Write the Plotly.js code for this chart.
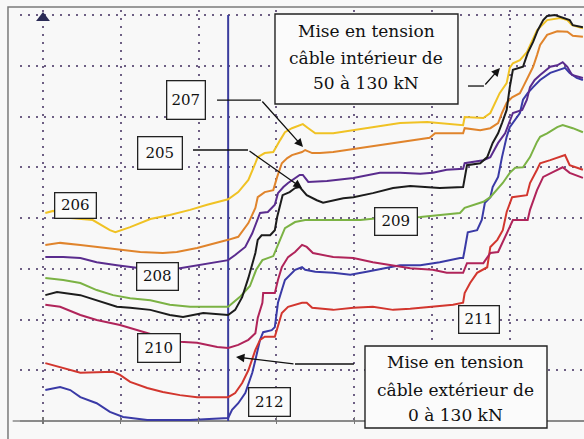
<!DOCTYPE html>
<html><head><meta charset="utf-8">
<script src="https://cdn.plot.ly/plotly-3.0.1.min.js"></script>
<style>html,body{margin:0;padding:0;background:#f8f8f8}</style>
</head><body>
<div id="chart" style="width:584px;height:439px"></div>
<script>
// time axis in grid divisions, signal in grid divisions
const x206 = [0.03,0.13,0.35,0.64,0.86,0.93,1.12,1.38,1.63,1.89,2.11,2.38,2.51,2.64,2.73,2.76,2.85,2.96,3.05,3.11,3.20,3.30,3.34,3.41,3.50,3.73,3.99,4.24,4.59,4.94,5.14,5.40,5.42,5.66,5.75,5.81,5.87,5.96,6.00,6.04,6.13,6.22,6.29,6.35,6.48,6.65,6.74,6.80,6.94];
const y206 = [4.10,4.14,4.00,3.96,3.76,3.72,3.82,3.98,4.06,4.16,4.26,4.37,4.51,4.75,5.08,5.20,5.28,5.30,5.54,5.69,5.77,5.83,5.85,5.77,5.67,5.67,5.73,5.79,5.87,5.89,5.87,5.83,5.99,5.97,6.07,6.27,6.46,6.66,6.96,7.05,7.11,7.27,7.51,7.70,7.90,7.94,7.90,7.80,7.74];
const x207 = [0.03,0.22,0.48,0.69,0.99,1.25,1.54,1.72,1.98,2.24,2.38,2.51,2.64,2.73,2.76,2.85,2.96,3.01,3.07,3.14,3.20,3.33,3.37,3.46,3.56,3.73,3.99,4.24,4.50,4.76,4.97,5.04,5.23,5.40,5.42,5.62,5.75,5.85,5.90,5.96,6.03,6.13,6.17,6.23,6.30,6.35,6.39,6.48,6.61,6.74,6.81,6.94];
const y207 = [3.47,3.51,3.47,3.43,3.37,3.33,3.31,3.33,3.41,3.51,3.57,3.63,3.90,4.20,4.41,4.51,4.55,4.81,5.08,5.18,5.24,5.30,5.34,5.28,5.28,5.30,5.36,5.42,5.48,5.54,5.58,5.67,5.67,5.67,5.77,5.73,5.77,5.87,6.07,6.27,6.38,6.46,6.58,6.76,6.98,7.21,7.41,7.61,7.68,7.67,7.59,7.57];
const x208 = [0.03,0.26,0.48,0.69,0.95,1.25,1.76,1.98,2.24,2.38,2.47,2.60,2.69,2.75,2.79,2.89,2.98,3.02,3.09,3.15,3.24,3.30,3.34,3.41,3.65,3.99,4.33,4.59,4.85,5.01,5.19,5.40,5.42,5.66,5.75,5.85,5.94,6.00,6.04,6.16,6.22,6.26,6.32,6.39,6.52,6.61,6.68,6.74,6.80,6.94];
const y208 = [3.23,3.23,3.21,3.13,3.07,3.01,3.01,3.07,3.13,3.17,3.27,3.43,3.70,3.96,4.10,4.12,4.26,4.49,4.61,4.69,4.79,4.85,4.85,4.71,4.73,4.79,4.89,4.89,4.87,4.89,4.95,4.97,5.08,5.14,5.20,5.48,5.67,5.89,6.07,6.13,6.33,6.58,6.72,6.82,6.98,7.01,7.07,6.98,6.82,6.76];
const x209 = [0.03,0.26,0.48,0.69,0.90,1.12,1.38,1.63,1.89,2.15,2.38,2.54,2.66,2.74,2.82,2.96,3.02,3.11,3.24,3.37,3.56,3.82,4.08,4.33,4.59,4.85,5.10,5.36,5.42,5.66,5.75,5.81,5.91,6.00,6.07,6.17,6.26,6.35,6.39,6.48,6.61,6.68,6.81,6.94];
const y209 = [2.82,2.78,2.72,2.58,2.48,2.42,2.38,2.29,2.25,2.25,2.25,2.46,2.66,2.98,3.17,3.25,3.47,3.80,3.92,3.96,3.96,3.96,3.96,4.00,4.00,4.02,4.06,4.10,4.20,4.32,4.41,4.51,4.69,4.89,4.99,5.00,5.20,5.50,5.60,5.67,5.79,5.83,5.77,5.69];
const x205 = [0.03,0.18,0.48,0.69,0.95,1.12,1.38,1.63,1.80,2.06,2.38,2.47,2.56,2.64,2.73,2.76,2.81,2.92,2.98,3.01,3.05,3.08,3.17,3.24,3.30,3.39,3.52,3.60,3.86,3.99,4.24,4.50,4.72,4.94,5.10,5.40,5.42,5.45,5.62,5.71,5.78,5.85,5.90,5.96,6.00,6.04,6.17,6.23,6.30,6.36,6.43,6.48,6.58,6.68,6.77,6.81,6.94];
const y205 = [2.48,2.54,2.48,2.38,2.25,2.23,2.19,2.09,2.05,2.13,2.09,2.19,2.44,2.82,3.31,3.57,3.66,3.66,3.76,4.02,4.30,4.45,4.51,4.59,4.61,4.45,4.35,4.30,4.39,4.41,4.49,4.59,4.63,4.61,4.59,4.61,4.81,5.04,5.08,5.20,5.48,5.67,5.87,6.13,6.58,6.92,6.98,7.25,7.47,7.70,7.90,7.98,8.00,7.94,7.90,7.80,7.76];
const x210 = [0.03,0.22,0.48,0.69,0.99,1.21,1.50,1.76,1.98,2.24,2.38,2.51,2.64,2.73,2.76,2.82,2.83,2.98,3.02,3.07,3.15,3.24,3.33,3.39,3.47,3.73,3.99,4.24,4.50,4.72,5.01,5.19,5.40,5.45,5.66,5.75,5.85,5.94,6.00,6.04,6.23,6.26,6.35,6.43,6.56,6.68,6.77,6.94];
const y210 = [2.29,2.25,2.09,1.99,1.89,1.79,1.66,1.56,1.54,1.46,1.44,1.50,1.60,1.73,2.03,2.33,2.52,2.52,2.78,3.03,3.23,3.33,3.47,3.43,3.31,3.23,3.21,3.13,3.07,3.01,2.98,2.92,2.92,3.11,3.11,3.31,3.33,3.63,3.82,3.96,3.96,4.16,4.55,4.81,4.91,5.00,4.89,4.79];
const x211 = [0.03,0.26,0.48,0.90,0.99,1.12,1.34,1.54,1.76,1.98,2.24,2.38,2.47,2.56,2.64,2.73,2.79,2.85,2.98,3.02,3.07,3.15,3.33,3.39,3.46,3.73,3.99,4.24,4.50,4.72,5.01,5.27,5.40,5.42,5.49,5.58,5.71,5.75,5.84,5.91,5.96,6.03,6.22,6.26,6.35,6.39,6.52,6.71,6.77,6.94];
const y211 = [1.14,1.04,0.95,0.97,0.91,0.77,0.65,0.57,0.51,0.47,0.47,0.47,0.55,0.75,1.00,1.40,1.60,1.66,1.66,1.85,2.13,2.25,2.33,2.33,2.23,2.19,2.23,2.25,2.19,2.21,2.25,2.29,2.33,2.52,2.72,2.92,3.03,3.43,3.57,3.76,4.12,4.41,4.45,4.69,4.95,5.08,5.14,5.24,5.04,4.95];
const x212 = [0.03,0.22,0.35,0.48,0.69,0.86,1.03,1.34,1.89,2.38,2.43,2.51,2.60,2.69,2.73,2.79,2.83,2.94,2.98,3.02,3.07,3.11,3.24,3.33,3.37,3.50,3.73,3.95,4.16,4.37,4.59,4.85,5.10,5.36,5.40,5.42,5.46,5.58,5.64,5.68,5.75,5.78,5.85,5.90,5.96,6.00,6.07,6.13,6.17,6.23,6.30,6.39,6.52,6.65,6.71,6.77,6.86,6.94];
const y212 = [0.61,0.67,0.61,0.47,0.35,0.18,0.08,0.02,0.02,0.06,0.22,0.35,0.55,0.95,1.20,1.60,1.75,1.79,1.85,2.33,2.58,2.78,2.98,3.03,2.98,2.94,2.92,2.88,2.94,3.01,3.07,3.07,3.13,3.21,3.21,3.37,3.72,3.76,3.96,4.30,4.41,4.61,4.81,5.20,5.60,5.79,5.93,6.07,6.33,6.46,6.58,6.72,6.86,6.92,6.96,6.86,6.76,6.72];

const eventX = 2.38;        // start of cable tensioning (vertical blue line)
const gridX = [0,1,2,3,4,5,6,7];
const gridY = [0,1,2,3,4,5,6,7,8];
const noteInner = ['Mise en tension', 'câble intérieur de', '50 à 130 kN'];
const noteOuter = ['Mise en tension', 'câble extérieur de', '0 à 130 kN'];

const series = [
  {name:'212', x:x212, y:y212, color:'#3a3aa6'},
  {name:'211', x:x211, y:y211, color:'#d2362e'},
  {name:'210', x:x210, y:y210, color:'#b0245a'},
  {name:'209', x:x209, y:y209, color:'#7bb244'},
  {name:'208', x:x208, y:y208, color:'#5a2c8e'},
  {name:'207', x:x207, y:y207, color:'#e0842c'},
  {name:'206', x:x206, y:y206, color:'#f0c224'},
  {name:'205', x:x205, y:y205, color:'#1c1c1c'}
];

const traces = [];
traces.push({x:[eventX,eventX], y:[gridY[0], gridY[gridY.length-1]], mode:'lines',
  line:{color:'#3b3d9e', width:2}, hoverinfo:'skip', showlegend:false});
series.forEach(s => traces.push({x:s.x, y:s.y, name:s.name, mode:'lines',
  line:{color:s.color, width:2}, showlegend:false, hoverinfo:'skip'}));
traces.push({x:[gridX[0]], y:[7.94], mode:'markers', cliponaxis:false,
  marker:{symbol:'triangle-up', size:12, color:'#2a2a55'}, showlegend:false, hoverinfo:'skip'});

const serif = 'DejaVu Serif';
function box(txt, x, y, w, h){
  return {text:txt, x:x, y:y, xref:'x', yref:'y', showarrow:false, xanchor:'center', yanchor:'middle',
    width:w, height:h, bgcolor:'#fbfbfb', bordercolor:'#222', borderwidth:1.3, borderpad:0,
    font:{family:serif, size:15, color:'#111'}, align:'center'};
}
function line(txt, x, y){
  return {text:txt, x:x, y:y, xref:'x', yref:'y', showarrow:false, xanchor:'center', yanchor:'middle',
    font:{family:serif, size:17, color:'#111'}};
}
function arrow(hx, hy, tx, ty){
  return {text:'', x:hx, y:hy, ax:tx, ay:ty, xref:'x', yref:'y', axref:'x', ayref:'y',
    showarrow:true, arrowhead:2, arrowsize:1.3, arrowwidth:1.3, arrowcolor:'#111', standoff:0, startstandoff:0};
}
function pline(pts){
  let d = 'M ' + pts.map(p => p[0] + ',' + p[1]).join(' L ');
  return {type:'path', path:d, xref:'x', yref:'y', line:{color:'#111', width:1.3}, layer:'above'};
}
function rect(x0, x1, y0, y1, ref){
  return {type:'rect', x0:x0, x1:x1, y0:y0, y1:y1, xref:ref||'x', yref:ref?'paper':'y', fillcolor:'#fbfbfb',
    line:{color:'#222', width:1.4}, layer:'above'};
}

const annotations = [
  box('207', 1.832, 6.335, 37, 37),
  box('205', 1.510, 5.291, 43, 31),
  box('206', 0.424, 4.256, 40, 24),
  box('208', 1.478, 2.857, 40, 26),
  box('210', 1.485, 1.448, 41, 27),
  box('212', 2.905, 0.384, 40, 27),
  box('209', 4.531, 3.941, 41, 26),
  box('211', 5.598, 2.010, 39, 26),
  line(noteInner[0], 4.158, 7.685), line(noteInner[1], 4.158, 7.153), line(noteInner[2], 4.158, 6.660),
  line(noteOuter[0], 5.308, 1.163), line(noteOuter[1], 5.308, 0.611), line(noteOuter[2], 5.308, 0.118),
  arrow(3.342, 5.399, 2.802, 6.325),
  arrow(3.329, 4.591, 2.635, 5.340),
  arrow(5.874, 6.956, 5.668, 6.601),
  arrow(2.481, 1.261, 3.239, 1.123)
];

const shapes = [
  rect(2.982, 5.334, 6.246, 8.020),
  // lower note box reaches below the time axis: drawn in paper coordinates so it is not clipped
  rect(0.6117, 0.9344, -0.0097, 0.1884, 'paper'),
  pline([[2.237,6.325],[2.802,6.325]]),
  pline([[1.928,5.340],[2.635,5.340]]),
  pline([[5.463,6.601],[5.668,6.601]]),
  pline([[3.997,1.123],[3.239,1.123]]),
  {type:'path', path:'M -0.0213,-0.06 L -0.0213,1.0072 L 1.05,1.0072', xref:'paper', yref:'paper',
   line:{color:'#7a7a7a', width:1.5}, layer:'above'},
  {type:'line', x0:-0.013, x1:0.0, y0:0.00725, y1:0.00725, xref:'paper', yref:'paper', line:{color:'#888', width:1.5}}
];

const layout = {
  width:584, height:439,
  margin:{l:20, r:0, t:10, b:15, autoexpand:false},
  paper_bgcolor:'#f8f8f8', plot_bgcolor:'#f8f8f8',
  showlegend:false,
  xaxis:{range:[-0.2956, 6.954], tickvals:gridX, showticklabels:false, ticks:'inside', ticklen:7,
    tickcolor:'#777', tickwidth:1.2, showgrid:true, gridcolor:'#6e5f84', gridwidth:2,
    griddash:'2px,6px', zeroline:false, showline:false, fixedrange:true},
  yaxis:{range:[-0.059, 8.099], tickvals:gridY, showticklabels:false, ticks:'', showgrid:true,
    gridcolor:'#6e5f84', gridwidth:2, griddash:'2px,6px', zeroline:true, zerolinecolor:'#8a8a8a',
    zerolinewidth:1.5, showline:false, fixedrange:true},
  annotations:annotations, shapes:shapes,
  font:{family:serif}
};

Plotly.newPlot('chart', traces, layout, {displayModeBar:false, staticPlot:true});
</script>
</body></html>
